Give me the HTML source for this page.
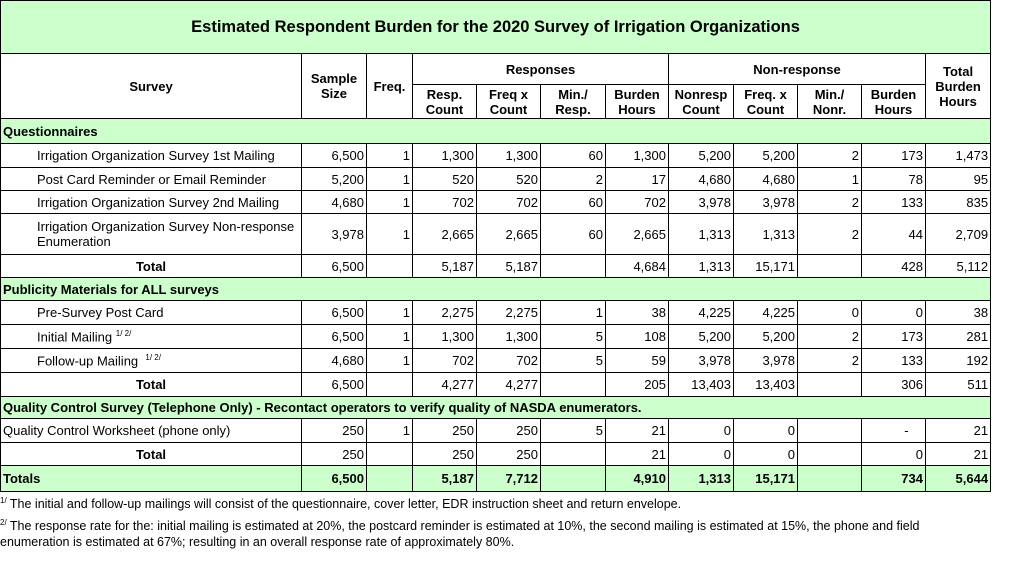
<!DOCTYPE html>
<html><head><style>
body{margin:0;background:#fff;font-family:"Liberation Sans",Arial,sans-serif;font-size:13px;color:#000;width:1024px;height:563px;overflow:hidden}
table{border-collapse:collapse;table-layout:fixed;position:absolute;left:0;top:0;width:990px}
td{border:1px solid #000;padding:0 2px;white-space:nowrap;overflow:hidden}
.g{background:#ccffcc}
.h td{font-weight:bold;text-align:center;line-height:15px}
.r{text-align:right}
.c{text-align:center}
.b{font-weight:bold}
.i{padding-left:36px}
.title{font-size:16.5px;font-weight:bold;text-align:center}
.fn{position:absolute;left:0;font-size:12.5px;line-height:16px}
sup{font-size:8px}
</style></head><body>
<table>
<col style="width:301px"><col style="width:65px"><col style="width:46px"><col style="width:64px"><col style="width:64px"><col style="width:65px"><col style="width:63px"><col style="width:65px"><col style="width:64px"><col style="width:64px"><col style="width:64px"><col style="width:65px">
<tr style="height:53px"><td colspan="12" class="g title">Estimated Respondent Burden for the 2020 Survey of Irrigation Organizations</td></tr>
<tr class="h" style="height:31px"><td rowspan="2">Survey</td><td rowspan="2">Sample<br>Size</td><td rowspan="2">Freq.</td><td colspan="4">Responses</td><td colspan="4">Non-response</td><td rowspan="2">Total<br>Burden<br>Hours</td></tr>
<tr class="h" style="height:34px"><td>Resp.<br>Count</td><td>Freq x<br>Count</td><td>Min./<br>Resp.</td><td>Burden<br>Hours</td><td>Nonresp<br>Count</td><td>Freq. x<br>Count</td><td>Min./<br>Nonr.</td><td>Burden<br>Hours</td></tr>
<tr style="height:25px" class="g b"><td colspan="12">Questionnaires</td></tr>
<tr style="height:24px"><td class="i">Irrigation Organization Survey 1st Mailing</td><td class="r">6,500</td><td class="r">1</td><td class="r">1,300</td><td class="r">1,300</td><td class="r">60</td><td class="r">1,300</td><td class="r">5,200</td><td class="r">5,200</td><td class="r">2</td><td class="r">173</td><td class="r">1,473</td></tr>
<tr style="height:23px"><td class="i">Post Card Reminder or Email Reminder</td><td class="r">5,200</td><td class="r">1</td><td class="r">520</td><td class="r">520</td><td class="r">2</td><td class="r">17</td><td class="r">4,680</td><td class="r">4,680</td><td class="r">1</td><td class="r">78</td><td class="r">95</td></tr>
<tr style="height:23px"><td class="i">Irrigation Organization Survey 2nd Mailing</td><td class="r">4,680</td><td class="r">1</td><td class="r">702</td><td class="r">702</td><td class="r">60</td><td class="r">702</td><td class="r">3,978</td><td class="r">3,978</td><td class="r">2</td><td class="r">133</td><td class="r">835</td></tr>
<tr style="height:41px"><td class="i" style="line-height:15px">Irrigation Organization Survey Non-response<br>Enumeration</td><td class="r">3,978</td><td class="r">1</td><td class="r">2,665</td><td class="r">2,665</td><td class="r">60</td><td class="r">2,665</td><td class="r">1,313</td><td class="r">1,313</td><td class="r">2</td><td class="r">44</td><td class="r">2,709</td></tr>
<tr style="height:23px"><td class="c b">Total</td><td class="r">6,500</td><td></td><td class="r">5,187</td><td class="r">5,187</td><td></td><td class="r">4,684</td><td class="r">1,313</td><td class="r">15,171</td><td></td><td class="r">428</td><td class="r">5,112</td></tr>
<tr style="height:23px" class="g b"><td colspan="12">Publicity Materials for ALL surveys</td></tr>
<tr style="height:24px"><td class="i">Pre-Survey Post Card</td><td class="r">6,500</td><td class="r">1</td><td class="r">2,275</td><td class="r">2,275</td><td class="r">1</td><td class="r">38</td><td class="r">4,225</td><td class="r">4,225</td><td class="r">0</td><td class="r">0</td><td class="r">38</td></tr>
<tr style="height:24px"><td class="i">Initial Mailing <sup>1/ 2/</sup></td><td class="r">6,500</td><td class="r">1</td><td class="r">1,300</td><td class="r">1,300</td><td class="r">5</td><td class="r">108</td><td class="r">5,200</td><td class="r">5,200</td><td class="r">2</td><td class="r">173</td><td class="r">281</td></tr>
<tr style="height:24px"><td class="i">Follow-up Mailing &nbsp;<sup>1/ 2/</sup></td><td class="r">4,680</td><td class="r">1</td><td class="r">702</td><td class="r">702</td><td class="r">5</td><td class="r">59</td><td class="r">3,978</td><td class="r">3,978</td><td class="r">2</td><td class="r">133</td><td class="r">192</td></tr>
<tr style="height:24px"><td class="c b">Total</td><td class="r">6,500</td><td></td><td class="r">4,277</td><td class="r">4,277</td><td></td><td class="r">205</td><td class="r">13,403</td><td class="r">13,403</td><td></td><td class="r">306</td><td class="r">511</td></tr>
<tr style="height:22px" class="g b"><td colspan="12">Quality Control Survey (Telephone Only) - Recontact operators to verify quality of NASDA enumerators.</td></tr>
<tr style="height:24px"><td>Quality Control Worksheet (phone only)</td><td class="r">250</td><td class="r">1</td><td class="r">250</td><td class="r">250</td><td class="r">5</td><td class="r">21</td><td class="r">0</td><td class="r">0</td><td></td><td class="r">-&nbsp;&nbsp;&nbsp;&nbsp;</td><td class="r">21</td></tr>
<tr style="height:23px"><td class="c b">Total</td><td class="r">250</td><td></td><td class="r">250</td><td class="r">250</td><td></td><td class="r">21</td><td class="r">0</td><td class="r">0</td><td></td><td class="r">0</td><td class="r">21</td></tr>
<tr style="height:26px" class="g b"><td>Totals</td><td class="r">6,500</td><td></td><td class="r">5,187</td><td class="r">7,712</td><td></td><td class="r">4,910</td><td class="r">1,313</td><td class="r">15,171</td><td></td><td class="r">734</td><td class="r">5,644</td></tr>
</table>
<div class="fn" style="top:493px"><sup>1/</sup> The initial and follow-up mailings will consist of the questionnaire, cover letter, EDR instruction sheet and return envelope.</div>
<div class="fn" style="top:515px"><sup>2/</sup> The response rate for the: initial mailing is estimated at 20%, the postcard reminder is estimated at 10%, the second mailing is estimated at 15%, the phone and field<br>enumeration is estimated at 67%; resulting in an overall response rate of approximately 80%.</div>
</body></html>
